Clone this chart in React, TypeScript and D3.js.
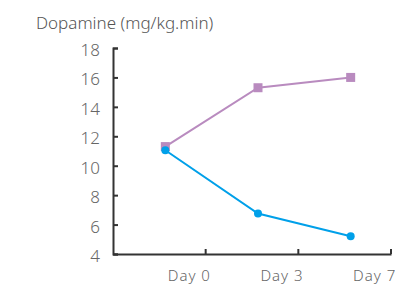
import * as d3 from "d3";
import { useEffect, useRef } from "react";

const days = ["Day 0", "Day 3", "Day 7"];
const purpleValues = [11.3, 15.3, 16.0];
const blueValues = [11.05, 6.75, 5.2];
const yTicks = [4, 6, 8, 10, 12, 14, 16, 18];
const title = "Dopamine (mg/kg.min)";

export default function App() {
    const ref = useRef<SVGSVGElement>(null);

    useEffect(() => {
        const width = 395;
        const height = 285;
        const marginLeft = 113;
        const marginRight = 4;
        const marginTop = 48;
        const marginBottom = 31;
        const font = "'Noto Sans', sans-serif";

        const svg = d3.select(ref.current);
        svg.selectAll("*").remove();

        const x = d3.scaleBand()
            .domain(days)
            .range([marginLeft, width - marginRight]);

        const y = d3.scaleLinear()
            .domain([4, 18])
            .range([height - marginBottom, marginTop]);

        // title
        svg.append("text")
            .attr("x", 36)
            .attr("y", 29)
            .attr("font-family", font)
            .attr("font-size", 17)
            .attr("font-weight", 300)
            .attr("fill", "#555")
            .text(title);

        // y axis, ticks pointing inward
        const gy = svg.append("g")
            .attr("transform", `translate(${marginLeft},0)`)
            .call(d3.axisRight(y).tickValues(yTicks).tickSize(5).tickFormat(() => ""));
        gy.select(".domain").attr("stroke", "#333").attr("stroke-width", 2);
        gy.selectAll(".tick line").attr("stroke", "#333").attr("stroke-width", 2);

        svg.append("g")
            .selectAll("text")
            .data(yTicks)
            .join("text")
            .attr("x", 100)
            .attr("y", d => y(d) + 2)
            .attr("dy", "0.35em")
            .attr("text-anchor", "end")
            .attr("font-family", font)
            .attr("font-size", 17)
            .attr("font-weight", 300)
            .attr("fill", "#666")
            .text(d => d);

        // x axis, ticks at band edges pointing up
        const gx = svg.append("g")
            .attr("transform", `translate(0,${height - marginBottom})`)
            .call(d3.axisTop(x).tickSize(5).tickFormat(() => "").tickSizeOuter(0));
        gx.select(".domain").attr("stroke", "#333").attr("stroke-width", 2);
        gx.selectAll(".tick").attr("transform", d => `translate(${(x(d as string) ?? 0) + x.bandwidth()},0)`);
        gx.selectAll(".tick line").attr("stroke", "#333").attr("stroke-width", 2);

        svg.append("g")
            .selectAll("text")
            .data(days)
            .join("text")
            .attr("x", d => (x(d) ?? 0) + x.bandwidth() / 2 + 30)
            .attr("y", 281)
            .attr("text-anchor", "middle")
            .attr("font-family", font)
            .attr("font-size", 15)
            .attr("font-weight", 300)
            .attr("letter-spacing", 1)
            .attr("fill", "#666")
            .text(d => d);

        const px = (i: number) => (x(days[i]) ?? 0) + x.bandwidth() / 2 + 6;

        const line = d3.line<number>()
            .x((_, i) => px(i))
            .y(d => y(d));

        svg.append("path")
            .datum(purpleValues)
            .attr("d", line)
            .attr("fill", "none")
            .attr("stroke", "#b98bbf")
            .attr("stroke-width", 2);

        svg.append("g")
            .selectAll("rect")
            .data(purpleValues)
            .join("rect")
            .attr("x", (_, i) => px(i) - 4.5)
            .attr("y", d => y(d) - 4.5)
            .attr("width", 9)
            .attr("height", 9)
            .attr("fill", "#b98bbf");

        svg.append("path")
            .datum(blueValues)
            .attr("d", line)
            .attr("fill", "none")
            .attr("stroke", "#00a0e9")
            .attr("stroke-width", 2);

        svg.append("g")
            .selectAll("circle")
            .data(blueValues)
            .join("circle")
            .attr("cx", (_, i) => px(i))
            .attr("cy", d => y(d))
            .attr("r", 4)
            .attr("fill", "#00a0e9");
    }, []);

    return (
        <svg ref={ref} width={395} height={285}
             style={{ position: "absolute", left: 0, top: 0, background: "#fff" }} />
    );
}
